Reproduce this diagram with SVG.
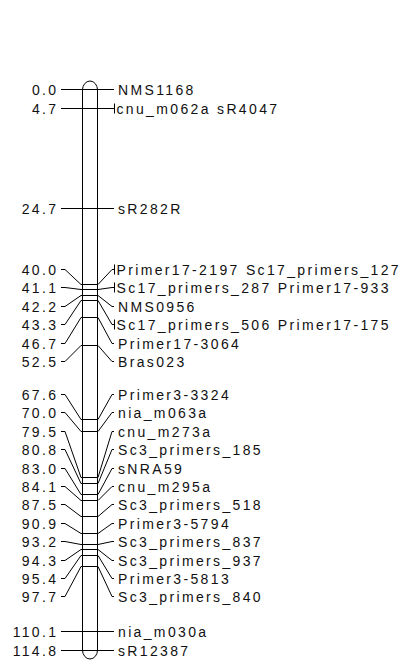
<svg xmlns="http://www.w3.org/2000/svg" width="407" height="664" viewBox="0 0 407 664">
<style>
.t{font-family:"Liberation Sans",Arial,sans-serif;font-size:14px;letter-spacing:2.35px;fill:#111}
.l{text-anchor:end}
.c{stroke:#000;stroke-width:1;fill:none}
</style>
<rect width="407" height="664" fill="#fff"/>
<g id="chromosome">
<path class="c" d="M82.5,90 A7.5,9 0 0 1 97.5,90 V650 A7.5,9 0 0 1 82.5,650 Z"/>
</g>
<g id="connectors" class="c">
<path d="M61,89.5H114"/>
<path d="M61,108.5H114M114.5,103.5V113.5"/>
<path d="M61,208.5H114"/>
<path d="M61,269.5H65L81,284.5H98L112,269.5H114M114.5,264.5V274.5"/>
<path d="M61,287.5H65L81,289.5H98L112,287.5H114M114.5,282.5V292.5"/>
<path d="M61,306.5H65L81,295.5H98L112,306.5H114"/>
<path d="M61,324.5H65L81,300.5H98L112,324.5H114M114.5,319.5V329.5"/>
<path d="M61,343.5H65L81,317.5H98L112,343.5H114"/>
<path d="M61,361.5H65L81,345.5H98L112,361.5H114"/>
<path d="M61,394.5H65L81,419.5H98L112,394.5H114"/>
<path d="M61,412.5H65L81,431.5H98L112,412.5H114"/>
<path d="M61,431.5H65L81,477.5H98L112,431.5H114"/>
<path d="M61,449.5H65L81,483.5H98L112,449.5H114"/>
<path d="M61,468.5H65L81,494.5H98L112,468.5H114"/>
<path d="M61,486.5H65L81,500.5H98L112,486.5H114"/>
<path d="M61,504.5H65L81,516.5H98L112,504.5H114"/>
<path d="M61,523.5H65L81,533.5H98L112,523.5H114"/>
<path d="M61,541.5H65L81,544.5H98L112,541.5H114"/>
<path d="M61,560.5H65L81,549.5H98L112,560.5H114"/>
<path d="M61,578.5H65L81,555.5H98L112,578.5H114"/>
<path d="M61,596.5H65L81,566.5H98L112,596.5H114"/>
<path d="M61,631.5H114"/>
<path d="M61,650.5H114"/>
</g>
<g id="m0"><text class="t l" x="58.4" y="94.5">0.0</text><text class="t" x="118" y="94.5">NMS1168</text></g>
<g id="m1"><text class="t l" x="58.4" y="113.5">4.7</text><text class="t" x="116.5" y="113.5">cnu_m062a sR4047</text></g>
<g id="m2"><text class="t l" x="58.4" y="213.5">24.7</text><text class="t" x="118" y="213.5">sR282R</text></g>
<g id="m3"><text class="t l" x="58.4" y="274.5">40.0</text><text class="t" x="116.5" y="274.5">Primer17-2197 Sc17_primers_127</text></g>
<g id="m4"><text class="t l" x="58.4" y="292.5">41.1</text><text class="t" x="116.5" y="292.5">Sc17_primers_287 Primer17-933</text></g>
<g id="m5"><text class="t l" x="58.4" y="311.5">42.2</text><text class="t" x="118" y="311.5">NMS0956</text></g>
<g id="m6"><text class="t l" x="58.4" y="329.5">43.3</text><text class="t" x="116.5" y="329.5">Sc17_primers_506 Primer17-175</text></g>
<g id="m7"><text class="t l" x="58.4" y="348.5">46.7</text><text class="t" x="118" y="348.5">Primer17-3064</text></g>
<g id="m8"><text class="t l" x="58.4" y="366.5">52.5</text><text class="t" x="118" y="366.5">Bras023</text></g>
<g id="m9"><text class="t l" x="58.4" y="399.5">67.6</text><text class="t" x="118" y="399.5">Primer3-3324</text></g>
<g id="m10"><text class="t l" x="58.4" y="417.5">70.0</text><text class="t" x="118" y="417.5">nia_m063a</text></g>
<g id="m11"><text class="t l" x="58.4" y="436.5">79.5</text><text class="t" x="118" y="436.5">cnu_m273a</text></g>
<g id="m12"><text class="t l" x="58.4" y="454.5">80.8</text><text class="t" x="118" y="454.5">Sc3_primers_185</text></g>
<g id="m13"><text class="t l" x="58.4" y="473.5">83.0</text><text class="t" x="118" y="473.5">sNRA59</text></g>
<g id="m14"><text class="t l" x="58.4" y="491.5">84.1</text><text class="t" x="118" y="491.5">cnu_m295a</text></g>
<g id="m15"><text class="t l" x="58.4" y="509.5">87.5</text><text class="t" x="118" y="509.5">Sc3_primers_518</text></g>
<g id="m16"><text class="t l" x="58.4" y="528.5">90.9</text><text class="t" x="118" y="528.5">Primer3-5794</text></g>
<g id="m17"><text class="t l" x="58.4" y="546.5">93.2</text><text class="t" x="118" y="546.5">Sc3_primers_837</text></g>
<g id="m18"><text class="t l" x="58.4" y="565.5">94.3</text><text class="t" x="118" y="565.5">Sc3_primers_937</text></g>
<g id="m19"><text class="t l" x="58.4" y="583.5">95.4</text><text class="t" x="118" y="583.5">Primer3-5813</text></g>
<g id="m20"><text class="t l" x="58.4" y="601.5">97.7</text><text class="t" x="118" y="601.5">Sc3_primers_840</text></g>
<g id="m21"><text class="t l" x="58.4" y="636.5">110.1</text><text class="t" x="118" y="636.5">nia_m030a</text></g>
<g id="m22"><text class="t l" x="58.4" y="655.5">114.8</text><text class="t" x="118" y="655.5">sR12387</text></g>
</svg>
